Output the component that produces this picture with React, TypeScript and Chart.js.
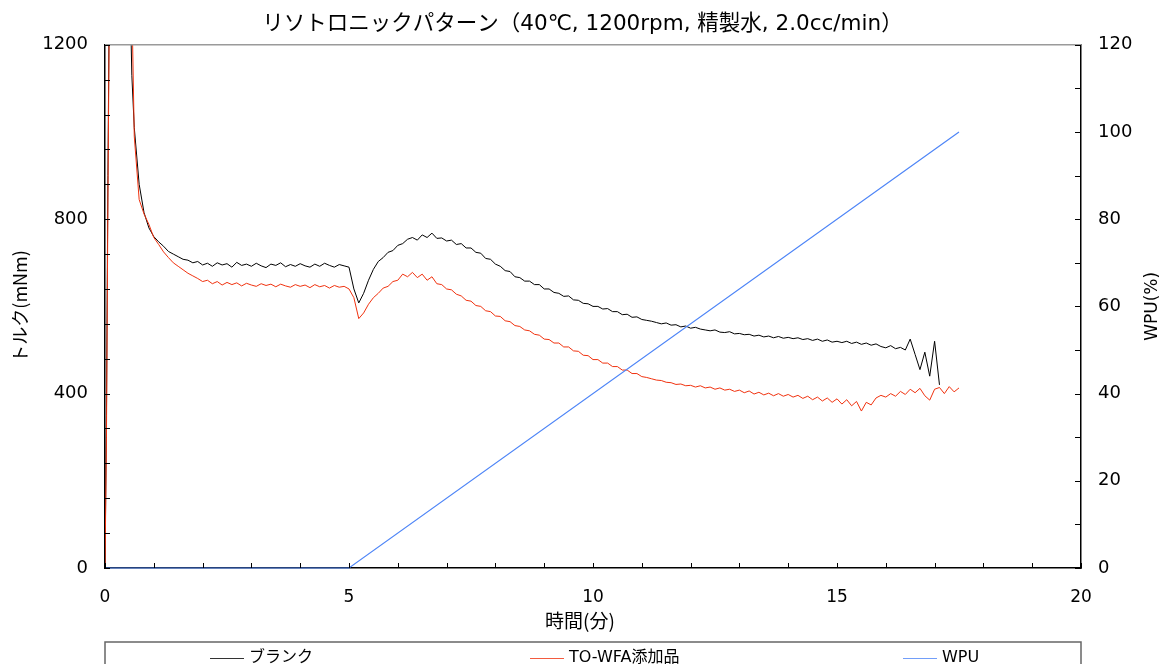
import { useEffect, useRef } from "react";
import { Chart, registerables } from "chart.js";

Chart.register(...registerables);

const TITLE = "リソトロニックパターン（40℃, 1200rpm, 精製水, 2.0cc/min）";
const X_TITLE = "時間(分)";
const Y_TITLE = "トルク(mNm)";
const Y2_TITLE = "WPU(%)";
const SERIES_NAMES = ["ブランク", "TO-WFA添加品", "WPU"];

// time (min)
const timeMin = [
  0, 0.03, 0.06, 0.09, 0.2, 0.35, 0.5, 0.55,
  0.6, 0.7, 0.8, 0.9, 1.0,
  1.1, 1.2, 1.3, 1.4, 1.5, 1.6, 1.7, 1.8, 1.9, 2.0,
  2.1, 2.2, 2.3, 2.4, 2.5, 2.6, 2.7, 2.8, 2.9, 3.0,
  3.1, 3.2, 3.3, 3.4, 3.5, 3.6, 3.7, 3.8, 3.9, 4.0,
  4.1, 4.2, 4.3, 4.4, 4.5, 4.6, 4.7, 4.8, 4.9, 5.0,
  5.1, 5.2, 5.3, 5.4, 5.5, 5.6, 5.7, 5.8, 5.9, 6.0,
  6.1, 6.2, 6.3, 6.4, 6.5, 6.6, 6.7, 6.8, 6.9, 7.0,
  7.1, 7.2, 7.3, 7.4, 7.5, 7.6, 7.7, 7.8, 7.9, 8.0,
  8.1, 8.2, 8.3, 8.4, 8.5, 8.6, 8.7, 8.8, 8.9, 9.0,
  9.1, 9.2, 9.3, 9.4, 9.5, 9.6, 9.7, 9.8, 9.9, 10.0,
  10.1, 10.2, 10.3, 10.4, 10.5, 10.6, 10.7, 10.8, 10.9, 11.0,
  11.1, 11.2, 11.3, 11.4, 11.5, 11.6, 11.7, 11.8, 11.9, 12.0,
  12.1, 12.2, 12.3, 12.4, 12.5, 12.6, 12.7, 12.8, 12.9, 13.0,
  13.1, 13.2, 13.3, 13.4, 13.5, 13.6, 13.7, 13.8, 13.9, 14.0,
  14.1, 14.2, 14.3, 14.4, 14.5, 14.6, 14.7, 14.8, 14.9, 15.0,
  15.1, 15.2, 15.3, 15.4, 15.5, 15.6, 15.7, 15.8, 15.9, 16.0,
  16.1, 16.2, 16.3, 16.4, 16.5, 16.6, 16.7, 16.8, 16.9, 17.0,
  17.1, 17.2, 17.3, 17.4, 17.5,
];

// ブランク torque (mNm)
const blankTorque = [
  0, 350, 900, 1350, 1900, 2000, 1400, 1130,
  1010, 880, 815, 780, 760,
  748, 738, 726, 720, 714, 708, 706, 700, 703, 695,
  699, 692, 700, 695, 698, 690, 701, 694, 697, 692,
  699, 693, 689, 697, 694, 700, 691, 696, 692, 698,
  693, 690, 697, 692, 699, 694, 690, 696, 693, 690,
  640, 608, 630, 660, 685, 703, 712, 724, 728, 740,
  744, 754, 758, 752, 764, 758, 768, 756, 757, 750,
  752, 742, 744, 734, 734, 724, 722, 710, 708, 697,
  692, 682, 680, 668, 666, 658, 658, 650, 650, 640,
  640, 632, 630, 623, 624, 615, 614, 607, 606, 600,
  600, 594, 595, 588, 588, 581, 582, 575, 576, 570,
  568, 566, 563, 560, 562, 557, 558, 553, 555, 550,
  552, 548, 546, 544, 546, 541, 540, 542, 537, 538,
  535, 536, 532, 534, 530, 532, 528, 531, 527, 529,
  526, 528, 524, 526, 522, 525, 520, 523, 518, 520,
  517, 520, 515, 518, 513, 516, 511, 514, 508, 505,
  510, 503, 506, 500, 525, 490, 455, 495, 440, 520,
  420, null, null, null, null,
];

// TO-WFA添加品 torque (mNm)
const additiveTorque = [
  0, 300, 850, 1300, 1900, 2000, 1600, 1300,
  990, 845, 812, 788, 758,
  742, 725, 712, 700, 692, 684, 676, 670, 664, 657,
  660, 652, 657, 649, 655, 650, 654, 647, 653, 649,
  646, 652, 648, 651, 645, 651, 647, 644, 650, 646,
  649, 643, 650, 645, 648, 642, 648, 644, 646, 640,
  620, 572, 585, 605, 620, 630, 642, 646, 657, 660,
  674, 668, 678, 666, 674, 660, 668, 652, 650, 640,
  638, 628, 624, 614, 612, 602, 600, 590, 588, 578,
  577, 567, 565, 556, 554, 546, 544, 536, 534, 525,
  524, 516, 516, 507, 507, 498, 497, 488, 487, 478,
  478, 470, 470, 462, 462, 454, 454, 446, 446, 439,
  437, 434, 431, 430, 426, 425, 421, 422, 418, 419,
  415, 418, 413, 415, 410, 413, 408, 410, 405, 408,
  402, 406, 399, 403, 397, 401, 395, 400, 394, 398,
  392, 396, 389, 394, 386, 392, 383, 390, 380, 388,
  376, 386, 372, 382, 360, 380, 374, 390, 396, 392,
  400, 394, 405, 398, 410, 402, 412, 395, 385, 410,
  414, 400, 416, 404, 413,
];

// WPU (%)
const wpuTime = [0, 5, 17.5];
const wpuValues = [0, 0, 100];

const FONT = '"DejaVu Sans", "Noto Sans CJK JP", sans-serif';
const JP_FONT = '"Noto Sans CJK JP", "DejaVu Sans", sans-serif';
const COLORS = ["#000000", "#f0320f", "#4f86f7"];
const LEGEND_POS = [0.1076, 0.4355, 0.8176];

const frame = {
  id: "frame",
  afterDraw(chart: any) {
    const { ctx, chartArea: a, scales } = chart;
    ctx.save();
    // top border
    ctx.strokeStyle = "#9a9a9a";
    ctx.lineWidth = 1.5;
    ctx.beginPath();
    ctx.moveTo(a.left, a.top);
    ctx.lineTo(a.right, a.top);
    ctx.stroke();
    // inside tick marks
    ctx.strokeStyle = "#000";
    ctx.lineWidth = 1;
    const xs = scales.x;
    for (let v = xs.min; v <= xs.max + 1e-9; v += 1) {
      const px = Math.round(xs.getPixelForValue(v)) + 0.5;
      ctx.beginPath();
      ctx.moveTo(px, a.bottom);
      ctx.lineTo(px, a.bottom - 5);
      ctx.stroke();
    }
    const ys = scales.y;
    for (let v = ys.min; v <= ys.max + 1e-9; v += 80) {
      const py = Math.round(ys.getPixelForValue(v)) + 0.5;
      ctx.beginPath();
      ctx.moveTo(a.left, py);
      ctx.lineTo(a.left + 5, py);
      ctx.stroke();
    }
    const y2 = scales.y1;
    for (let v = y2.min; v <= y2.max + 1e-9; v += 10) {
      const py = Math.round(y2.getPixelForValue(v)) + 0.5;
      ctx.beginPath();
      ctx.moveTo(a.right, py);
      ctx.lineTo(a.right - 6, py);
      ctx.stroke();
    }
    // x axis title (centred on the whole chart, as in the reference)
    ctx.fillStyle = "#000";
    ctx.font = `19px ${JP_FONT}`;
    ctx.textAlign = "center";
    ctx.textBaseline = "middle";
    ctx.fillText(X_TITLE, 580, a.bottom + 53);
    // right axis title (reads bottom to top)
    ctx.font = `17px ${FONT}`;
    ctx.translate(1153, (a.top + a.bottom) / 2);
    ctx.rotate(-Math.PI / 2);
    ctx.fillText(Y2_TITLE, 0, 0);
    ctx.restore();

    // legend box
    ctx.save();
    const top = a.bottom + 74;
    ctx.strokeStyle = "#666";
    ctx.lineWidth = 1.5;
    ctx.strokeRect(a.left, top, a.right - a.left, 80);
    chart.data.datasets.forEach((ds: any, i: number) => {
      const x0 = Math.round(a.left + (a.right - a.left) * LEGEND_POS[i]);
      const y = top + 15.5;
      ctx.globalAlpha = 0.8;
      ctx.strokeStyle = ds.borderColor;
      ctx.lineWidth = 1;
      ctx.beginPath();
      ctx.moveTo(x0, Math.round(y) + 0.5);
      ctx.lineTo(x0 + 34, Math.round(y) + 0.5);
      ctx.stroke();
      ctx.globalAlpha = 1;
      ctx.fillStyle = "#000";
      ctx.font = `16px ${FONT}`;
      ctx.textAlign = "left";
      ctx.textBaseline = "middle";
      ctx.fillText(ds.label, x0 + 39, y);
    });
    ctx.restore();
  },
};

const plain = (v: any) => String(v);

export default function App() {
  const ref = useRef<HTMLCanvasElement>(null);
  useEffect(() => {
    if (!ref.current) return;
    const toXY = (ts: number[], vs: (number | null)[]) =>
      ts.map((t, i) => ({ x: t, y: vs[i] }));
    const chart = new Chart(ref.current, {
      type: "line",
      data: {
        datasets: [
          {
            label: SERIES_NAMES[0],
            data: toXY(timeMin, blankTorque) as any,
            borderColor: COLORS[0],
            backgroundColor: COLORS[0],
            borderWidth: 1,
            pointRadius: 0,
            yAxisID: "y",
            order: 2,
          },
          {
            label: SERIES_NAMES[1],
            data: toXY(timeMin, additiveTorque) as any,
            borderColor: COLORS[1],
            backgroundColor: COLORS[1],
            borderWidth: 1,
            pointRadius: 0,
            yAxisID: "y",
            order: 1,
          },
          {
            label: SERIES_NAMES[2],
            data: toXY(wpuTime, wpuValues) as any,
            borderColor: COLORS[2],
            backgroundColor: COLORS[2],
            borderWidth: 1.2,
            pointRadius: 0,
            yAxisID: "y1",
            order: 0,
            clip: 3,
          },
        ],
      },
      options: {
        animation: false,
        responsive: false,
        devicePixelRatio: 1,
        layout: { padding: { left: 0, right: 0, top: 0, bottom: 26 } },
        plugins: {
          legend: { display: false },
          tooltip: { enabled: false },
          title: {
            display: true,
            text: TITLE,
            color: "#000",
            font: { family: FONT, size: 21.5, weight: "normal", lineHeight: 1.2 },
            padding: { top: 12, bottom: 7 },
          },
        },
        scales: {
          x: {
            type: "linear",
            min: 0,
            max: 20,
            grid: { display: false, drawTicks: false },
            border: { display: true, color: "#000", width: 1.5 },
            ticks: {
              stepSize: 5,
              padding: 19,
              color: "#000",
              font: { family: FONT, size: 17 },
              callback: plain,
            },
            title: {
              display: false,
              text: X_TITLE,
            },
            afterFit: (s: any) => {
              s.height = 70;
            },
          },
          y: {
            type: "linear",
            position: "left",
            min: 0,
            max: 1200,
            grid: { display: false, drawTicks: false },
            border: { display: true, color: "#000", width: 1.5 },
            ticks: {
              stepSize: 400,
              padding: 17,
              color: "#000",
              font: { family: FONT, size: 18 },
              callback: plain,
            },
            title: {
              display: true,
              text: Y_TITLE,
              color: "#000",
              font: { family: JP_FONT, size: 18, lineHeight: 1.2 },
              padding: { top: 9, bottom: 0 },
            },
            afterFit: (s: any) => {
              s.width = 105;
            },
          },
          y1: {
            type: "linear",
            position: "right",
            min: 0,
            max: 120,
            grid: { display: false, drawTicks: false },
            border: { display: true, color: "#000", width: 1.5 },
            ticks: {
              stepSize: 20,
              padding: 17,
              color: "#000",
              font: { family: FONT, size: 18 },
              callback: plain,
            },
            afterFit: (s: any) => {
              s.width = 84;
            },
          },
        },
      },
      plugins: [frame],
    });
    return () => chart.destroy();
  }, []);
  return (
    <div style={{ position: "absolute", left: 0, top: 0, width: 1165, height: 664, overflow: "hidden" }}>
      <canvas ref={ref} width={1165} height={664} style={{ display: "block" }} />
    </div>
  );
}
